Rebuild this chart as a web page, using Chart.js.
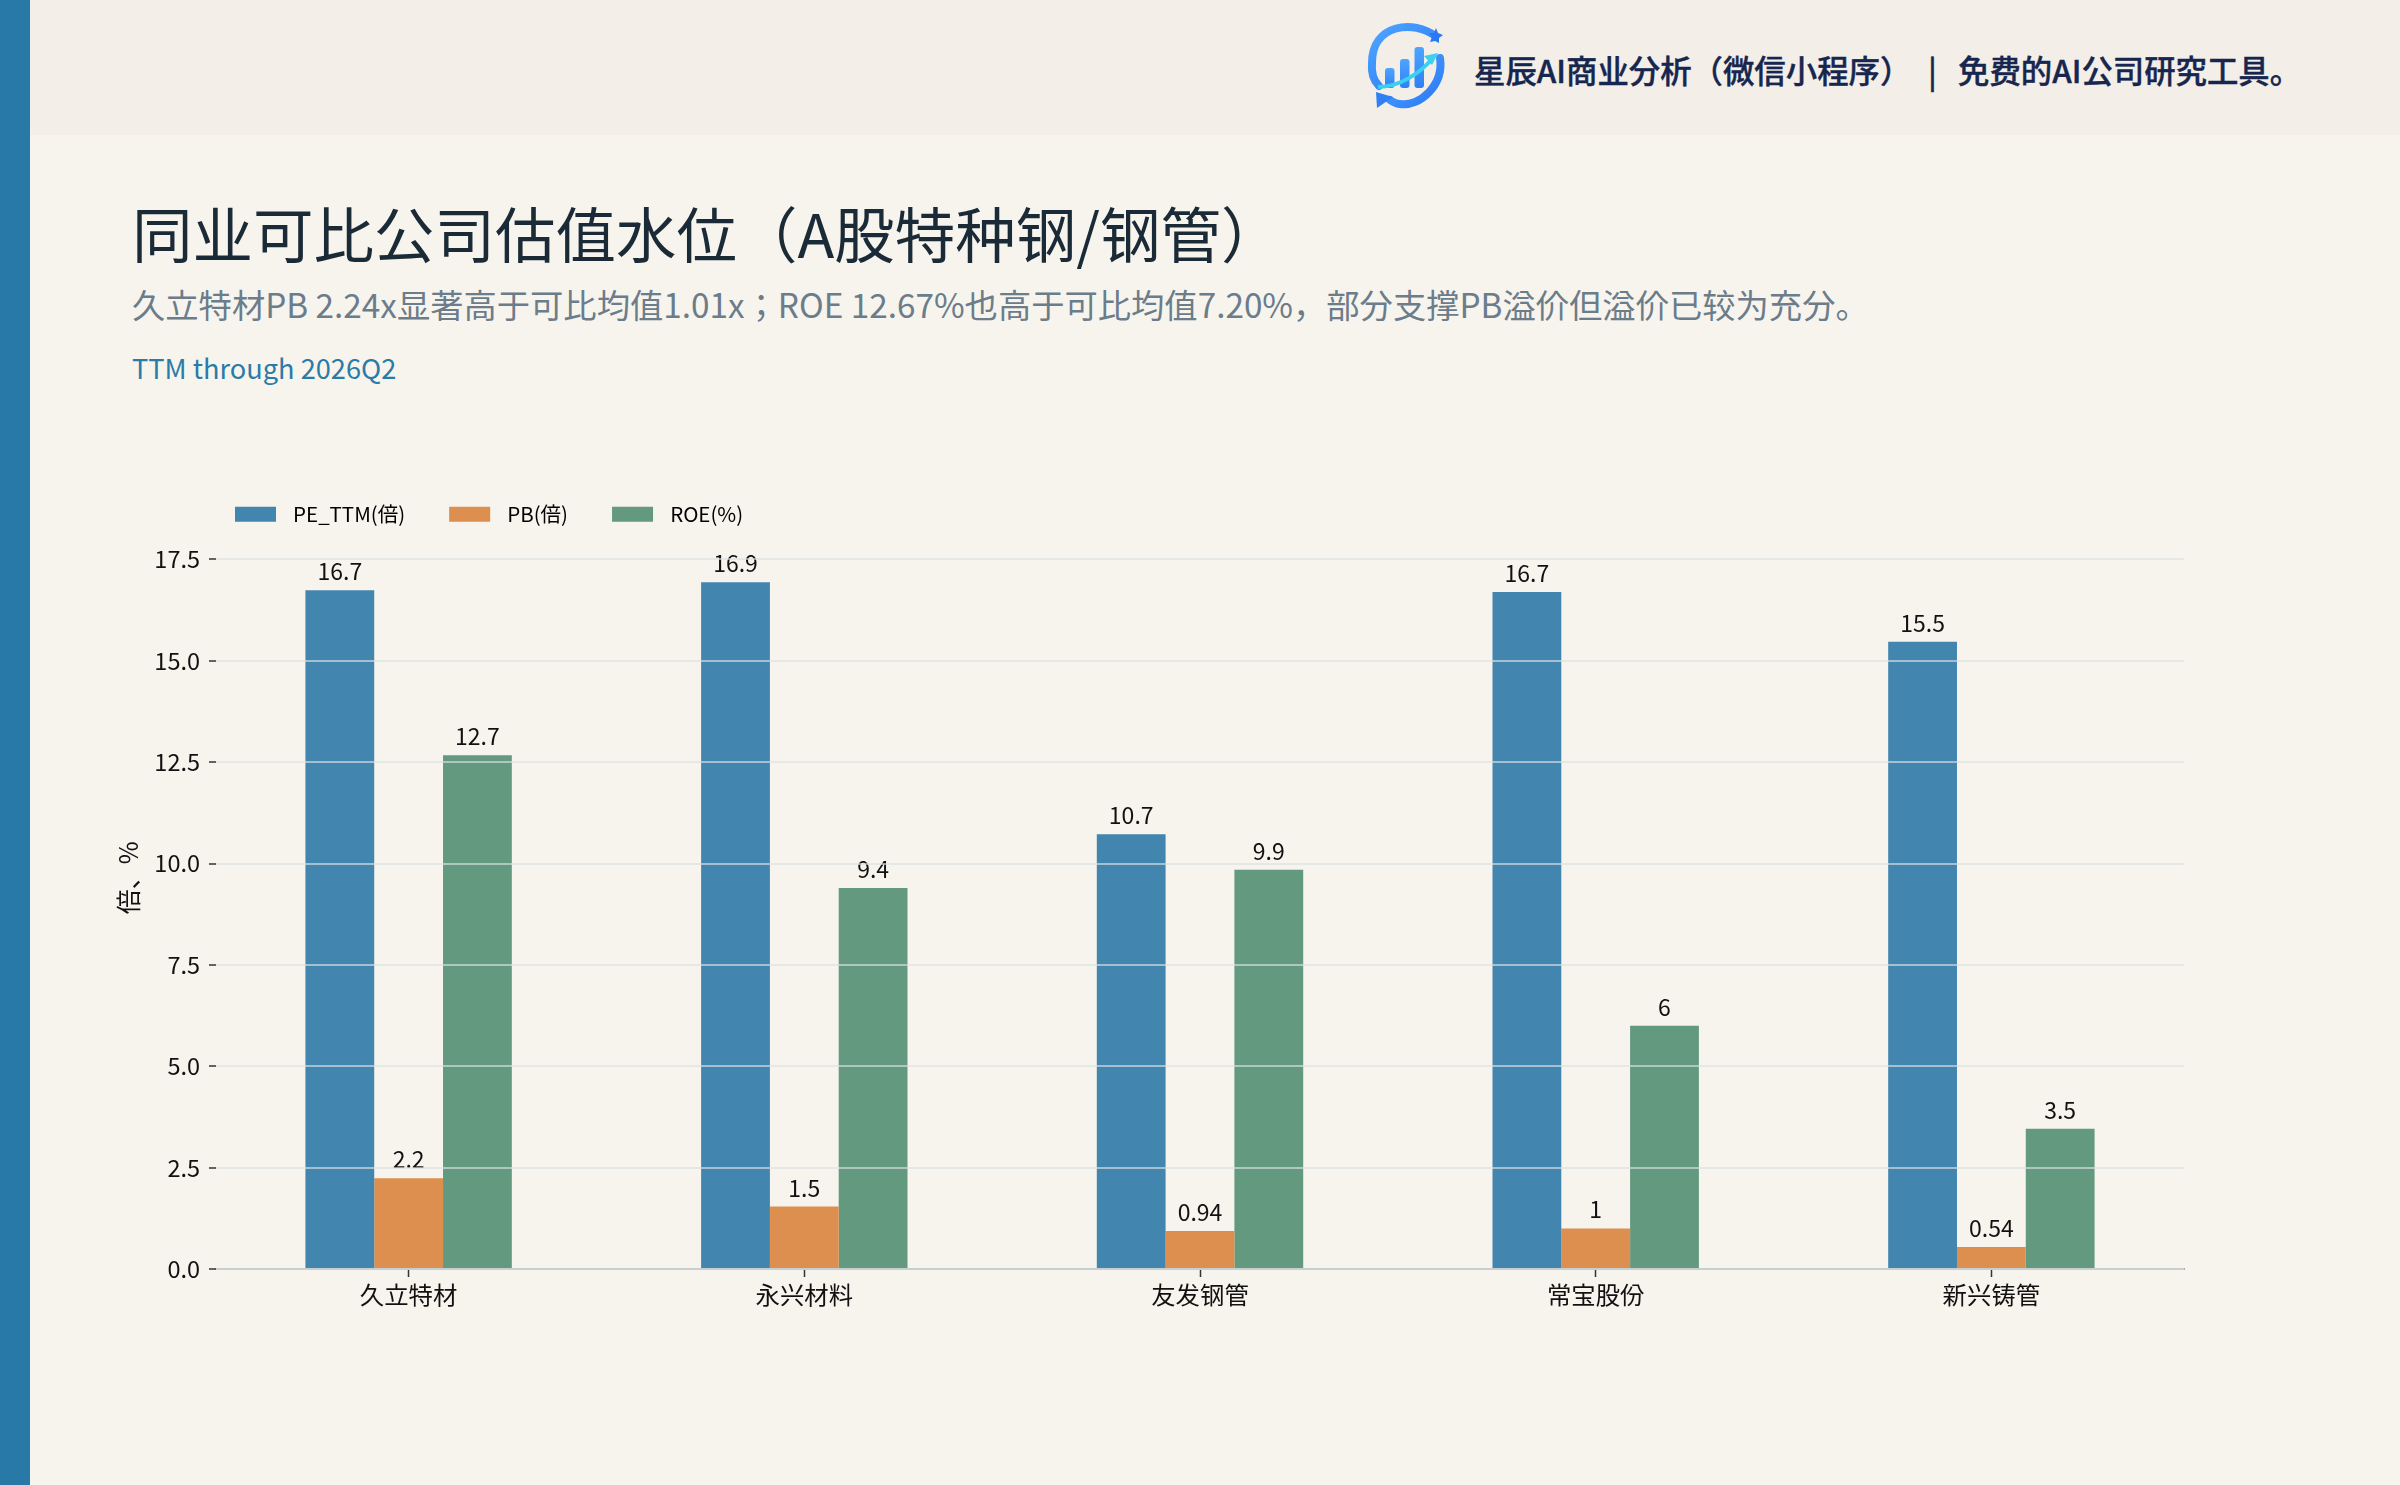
<!DOCTYPE html>
<html><head><meta charset="utf-8">
<script src="https://cdn.jsdelivr.net/npm/chart.js@4"></script>
<style>
html,body{margin:0;padding:0;width:2400px;height:1485px;overflow:hidden;background:#f7f4ed;font-family:"Noto Sans CJK JP","Noto Sans",sans-serif}
#band{position:absolute;left:0;top:0;width:30px;height:1485px;background:#2878a8}
#head{position:absolute;left:30px;top:0;width:2370px;height:135px;background:#f3efe8}
.t{position:absolute;white-space:nowrap;line-height:1}
.brand{top:54px;font-size:31.4px;font-weight:500;color:#16264f;-webkit-text-stroke:0.4px #16264f}
#b1{left:1474px}#b2{left:1928px}#b3{left:1958px}
#title{left:132px;top:202px;font-size:60.5px;color:#1a2a36}
#sub{left:132px;top:287px;font-size:33.3px;color:#6b7c8a}
#ttm{left:132px;top:354px;font-size:27.2px;color:#2a7ba8}
#logo{position:absolute;left:1360px;top:15px;width:100px;height:100px}
canvas{position:absolute;left:0;top:0}
</style></head><body>
<div id="band"></div><div id="head"></div>
<svg id="logo" viewBox="0 0 100 100"><defs><linearGradient id="g" x1="0" y1="0" x2="1" y2="1"><stop offset="0" stop-color="#4ea5ff"/><stop offset="1" stop-color="#2a78f5"/></linearGradient><linearGradient id="h" x1="0" y1="0" x2="0" y2="1"><stop offset="0" stop-color="#4ea5ff"/><stop offset="1" stop-color="#2f80f5"/></linearGradient></defs>
<path d="M75 21C55 5 12 8 12 48C11 58 14 66 19 71" fill="none" stroke="url(#g)" stroke-width="8" stroke-linecap="round"/>
<path d="M80 43C84 70 60 92 40 89C36 89 33 87 30 85" fill="none" stroke="url(#g)" stroke-width="8" stroke-linecap="round"/>
<path d="M76 13l2 5 5 2-4 3 0 5-4-2-5 1 2-5-3-4 5 0z" fill="#2a78f5"/><path d="M16 77L33 82L17 93z" fill="#2f80f5"/>
<rect x="25" y="53" width="9.5" height="20" rx="3" fill="url(#h)"/><rect x="40" y="44" width="9.5" height="29" rx="3" fill="url(#h)"/><rect x="54.5" y="32" width="9.5" height="41" rx="3" fill="url(#h)"/>
<path d="M18 72C40 72 60 58 73 43" fill="none" stroke="#3cd0f0" stroke-width="4"/><path d="M64 41L78 38L72 50z" fill="#3cd0f0"/></svg>
<div class="t brand" id="b1">星辰AI商业分析（微信小程序）</div><div class="t brand" id="b2">|</div><div class="t brand" id="b3">免费的AI公司研究工具。</div>
<div class="t" id="title">同业可比公司估值水位（A股特种钢/钢管）</div>
<div class="t" id="sub">久立特材PB 2.24x显著高于可比均值1.01x；ROE 12.67%也高于可比均值7.20%，部分支撑PB溢价但溢价已较为充分。</div>
<div class="t" id="ttm">TTM through 2026Q2</div>
<canvas id="c" width="2400" height="1485" style="width:2400px;height:1485px"></canvas>
<script>
const categories = ["久立特材","永兴材料","友发钢管","常宝股份","新兴铸管"];
const peTtm = [16.74,16.94,10.72,16.7,15.47];
const pb = [2.24,1.54,0.94,1.0,0.54];
const roe = [12.67,9.4,9.85,6.0,3.46];
const yTicks = [0,2.5,5,7.5,10,12.5,15,17.5];
const seriesNames = ["PE_TTM(倍)","PB(倍)","ROE(%)"];
const seriesColors = ["#4285ae","#dc8f4e","#63997f"];
const FONT = '"Noto Sans CJK JP","Noto Sans",sans-serif';
const toXY = a => a.map((v,i)=>({x:i,y:v}));
const fmt = v => v===9.85 ? '9.9' : String(+v.toPrecision(v<10?2:3));

const barLabels = {id:'barLabels',afterDatasetsDraw(chart){
  const ctx=chart.ctx;ctx.save();ctx.font='23px '+FONT;ctx.fillStyle='#111';ctx.textAlign='center';ctx.textBaseline='alphabetic';
  chart.data.datasets.forEach((ds,d)=>{chart.getDatasetMeta(d).data.forEach((el,i)=>{ctx.fillText(fmt(ds.data[i].y),el.x,el.y-10);});});
  ctx.restore();}};
const legendPlace = {id:'legendPlace',afterLayout(chart){const l=chart.legend;l.left=191;l.right=1200;l.top=460;l.bottom=l.top+l.height;}};

new Chart(document.getElementById('c'),{
  type:'bar',
  data:{labels:categories,datasets:[peTtm,pb,roe].map((a,i)=>({label:seriesNames[i],data:toXY(a),backgroundColor:seriesColors[i],borderWidth:0,categoryPercentage:0.5216,barPercentage:1}))},
  plugins:[barLabels,legendPlace],
  options:{responsive:false,animation:false,devicePixelRatio:1,
    layout:{padding:{left:113,right:216,top:412,bottom:136}},
    plugins:{tooltip:{enabled:false},
      legend:{position:'top',align:'start',labels:{boxWidth:41,boxHeight:15,padding:44,color:'#111',font:{family:FONT,size:20.5},
        generateLabels(chart){return chart.data.datasets.map((d,i)=>({text:'\u2004'+d.label,fillStyle:d.backgroundColor,strokeStyle:d.backgroundColor,lineWidth:0,datasetIndex:i}));}}}},
    scales:{
      x:{type:'linear',bounds:'data',offset:false,min:-0.4868,max:4.4868,
        afterBuildTicks(s){s.ticks=categories.map((_,i)=>({value:i}));},
        afterFit(s){s.height=80;},
        ticks:{stepSize:1,autoSkip:false,maxRotation:0,padding:3,color:'#111',font:{family:FONT,size:24.4},callback:v=>categories[v]},
        grid:{offset:false,drawOnChartArea:false,drawTicks:true,tickLength:8,tickWidth:1.5,tickColor:'#333'},
        border:{display:true,color:'#9fb0b8',width:2}},
      y:{type:'linear',bounds:'data',min:0,max:19.3,
        afterBuildTicks(s){s.ticks=yTicks.map(v=>({value:v}));},
        afterFit(s){s.width=103;},
        title:{display:true,text:'倍、%',color:'#111',font:{family:FONT,size:25},padding:{top:0,bottom:0}},
        ticks:{padding:9,color:'#111',font:{family:FONT,size:23.5},callback:v=>v.toFixed(1)},
        grid:{z:1,color:'rgba(220,225,226,0.64)',lineWidth:2,drawTicks:true,tickLength:7,tickWidth:1.5,tickColor:'#333'},
        border:{display:false}}
    }}
});
</script></body></html>
